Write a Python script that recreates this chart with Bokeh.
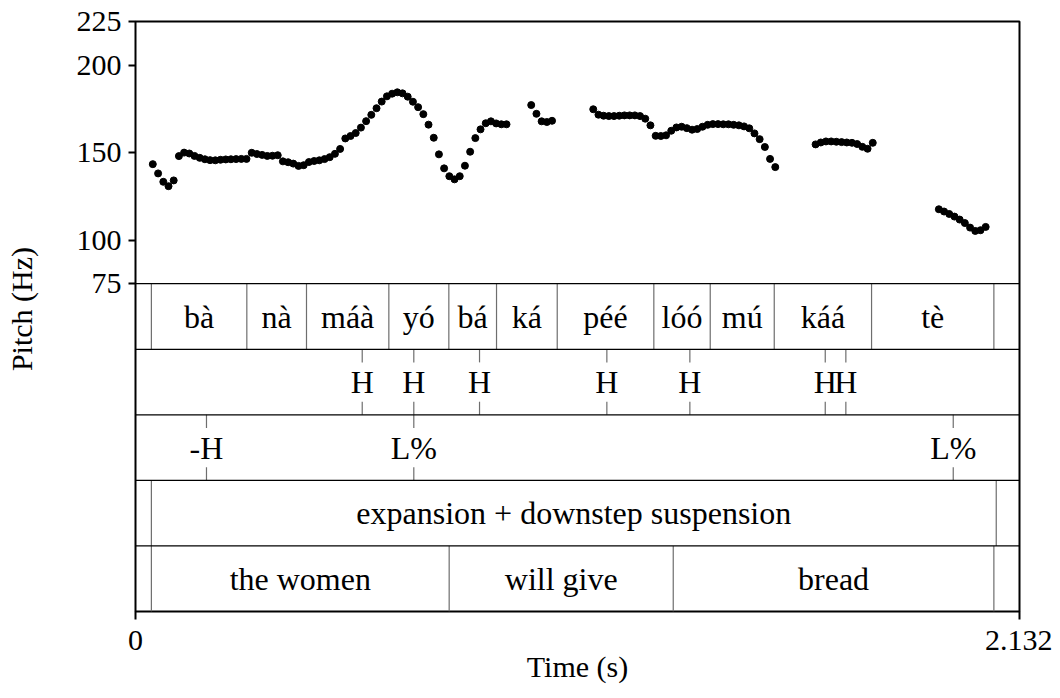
import math
from bokeh.plotting import figure
from bokeh.models import Range1d, FixedTicker, Span
from bokeh.core.properties import value
from bokeh.embed import file_html
from bokeh.resources import INLINE

# ---------------- data ----------------
# pitch track (time in s, F0 in Hz), one run per voiced stretch
run1_t = [0.0417, 0.0545, 0.0671, 0.0796, 0.0921, 0.1047, 0.1172, 0.1298, 0.1423, 0.1549,
          0.1674, 0.1799, 0.1925, 0.2050, 0.2176, 0.2301, 0.2426, 0.2552, 0.2677, 0.2803,
          0.2928, 0.3054, 0.3179, 0.3304, 0.3430, 0.3555, 0.3681, 0.3806, 0.3932, 0.4057,
          0.4182, 0.4308, 0.4433, 0.4559, 0.4684, 0.4810, 0.4935, 0.5060, 0.5186, 0.5311,
          0.5437, 0.5562, 0.5687, 0.5813, 0.5938, 0.6064, 0.6189, 0.6315, 0.6440, 0.6565,
          0.6691, 0.6816, 0.6942, 0.7067, 0.7193, 0.7318, 0.7443, 0.7569, 0.7694, 0.7820,
          0.7945, 0.8071, 0.8196, 0.8321, 0.8447, 0.8572, 0.8698, 0.8823, 0.8948]
run1_hz = [143.4, 138.1, 133.3, 130.8, 134.1, 148.0, 150.0, 149.5, 148.1, 147.0,
           146.2, 145.7, 145.6, 145.9, 146.1, 146.2, 146.3, 146.4, 146.4, 149.9,
           149.2, 148.7, 148.1, 148.2, 148.5, 145.0, 144.5, 143.7, 142.4, 142.8,
           144.6, 145.2, 145.6, 146.3, 147.4, 149.3, 152.1, 158.1, 159.5, 161.2,
           164.3, 168.0, 171.6, 175.4, 179.2, 182.2, 183.7, 184.5, 183.9, 182.0,
           179.1, 176.0, 172.0, 166.0, 158.5, 149.0, 141.0, 136.5, 134.7, 136.5,
           142.5, 150.5, 158.3, 163.3, 166.8, 167.9, 166.7, 166.2, 166.2]
run2_t = [0.9544, 0.9670, 0.9795, 0.9921, 1.0046]
run2_hz = [177.2, 172.2, 167.9, 167.5, 168.2]
run3_t = [1.1040, 1.1165, 1.1290, 1.1416, 1.1541, 1.1667, 1.1792, 1.1918, 1.2043, 1.2168,
          1.2294, 1.2419, 1.2545, 1.2670, 1.2796, 1.2921, 1.3046, 1.3172, 1.3297, 1.3423,
          1.3548, 1.3674, 1.3799, 1.3924, 1.4050, 1.4175, 1.4301, 1.4426, 1.4552, 1.4677,
          1.4803, 1.4928, 1.5053, 1.5179, 1.5304, 1.5430]
run3_hz = [174.8, 171.7, 171.1, 170.9, 170.9, 171.1, 171.3, 171.3, 171.3, 170.9,
           169.4, 165.6, 159.6, 159.5, 159.9, 162.5, 164.4, 164.8, 164.0, 163.1,
           163.5, 164.8, 165.9, 166.3, 166.3, 166.2, 166.2, 165.9, 165.6, 165.0,
           163.9, 161.0, 157.7, 153.2, 146.4, 141.7]
run4_t = [1.6402, 1.6527, 1.6652, 1.6778, 1.6903, 1.7029, 1.7154, 1.7280, 1.7405, 1.7530,
          1.7656, 1.7781]
run4_hz = [154.7, 155.8, 156.4, 156.4, 156.2, 156.0, 155.8, 155.6, 154.9, 153.3,
           152.2, 155.6]
run5_t = [1.9375, 1.9501, 1.9626, 1.9752, 1.9877, 2.0002, 2.0128, 2.0253, 2.0379, 2.0504]
run5_hz = [117.6, 116.3, 114.9, 113.4, 111.7, 109.7, 107.1, 105.2, 105.6, 107.5]

# tier 1: syllables (interval tier)
syll_bounds = [0.0383, 0.2685, 0.4124, 0.6110, 0.7557, 0.8707, 1.0171, 1.2501,
               1.3861, 1.5405, 1.7752, 2.0702]
syll_labels = ["bà", "nà", "máà", "yó", "bá", "ká", "péé", "lóó", "mú", "káá", "tè"]
# tier 2: tones (point tier)
tone_times = [0.5468, 0.6712, 0.8297, 1.1368, 1.3370, 1.6635, 1.7132]
tone_labels = ["H", "H", "H", "H", "H", "H", "H"]
# tier 3: boundary tones (point tier)
bt_times = [0.1712, 0.6712, 1.9722]
bt_labels = ["-H", "L%", "L%"]
# tier 4: information (interval tier)
info_bounds = [0.0383, 2.0759]
info_labels = ["expansion + downstep suspension"]
# tier 5: gloss (interval tier)
gloss_bounds = [0.0383, 0.7565, 1.2969, 2.0702]
gloss_labels = ["the women", "will give", "bread"]

t_end = 2.132
y_ticks = [75, 100, 150, 200, 225]
x_ticks = [0, 2.132]
x_tick_labels = ["0", "2.132"]
x_title = "Time (s)"
y_title = "Pitch (Hz)"

# ---------------- layout ----------------
FONT = "Liberation Serif"
FS = "30px"       # axis texts
TFS = "32px"      # tier texts
F0_MIN, F0_MAX = 75, 225
TIER_H = 37.5          # tier height in axis units
N_TIERS = 5
Y_MIN = F0_MIN - N_TIERS * TIER_H

p = figure(width=1052, height=697, output_backend="svg", toolbar_location=None,
           x_range=Range1d(0, t_end), y_range=Range1d(Y_MIN, F0_MAX),
           min_border_left=135, min_border_right=33, min_border_top=21, min_border_bottom=86)
p.grid.visible = False
p.outline_line_color = "black"
p.outline_line_width = 2
p.background_fill_color = "white"
p.border_fill_color = "white"

for ax in (p.xaxis[0], p.yaxis[0]):
    ax.axis_line_color = None
    ax.major_tick_line_color = "black"
    ax.major_tick_line_width = 2
    ax.major_tick_in = 0
    ax.minor_tick_line_color = None
    ax.major_label_text_font = FONT
    ax.major_label_text_font_size = FS
    ax.major_label_text_color = "black"
    ax.axis_label_text_font = FONT
    ax.axis_label_text_font_size = FS
    ax.axis_label_text_font_style = "normal"
    ax.axis_label_text_color = "black"

p.yaxis.ticker = FixedTicker(ticks=y_ticks, minor_ticks=[])
p.yaxis.major_tick_out = 7
p.yaxis.major_label_standoff = 7
p.yaxis.axis_label = "\u00a0\u00a0" + y_title
p.yaxis.axis_label_standoff = 36
p.xaxis.ticker = FixedTicker(ticks=x_ticks, minor_ticks=[])
p.xaxis.major_tick_out = 8
p.xaxis.major_label_standoff = 11
p.xaxis.major_label_overrides = {x: s for x, s in zip(x_ticks, x_tick_labels)}
p.xaxis.axis_label = x_title
p.xaxis.axis_label_standoff = -3

# tier separators
for k in range(N_TIERS):
    p.add_layout(Span(location=F0_MIN - k * TIER_H, dimension="width",
                      line_color="black", line_width=1.3))

def tier_top(k):
    return F0_MIN - k * TIER_H

def interval_tier(k, bounds, labels):
    top = tier_top(k)
    bot = top - TIER_H
    p.segment(x0=bounds, y0=[bot] * len(bounds), x1=bounds, y1=[top] * len(bounds),
              line_color="#6e6e6e", line_width=1.2)
    mids = [(a + b) / 2 for a, b in zip(bounds[:-1], bounds[1:])]
    p.text(x=mids, y=[top - TIER_H / 2] * len(mids), text=labels,
           text_font=value(FONT), text_font_size=value(TFS), text_color="black",
           text_align="center", text_baseline="middle")

def point_tier(k, times, labels):
    top = tier_top(k)
    bot = top - TIER_H
    tick = 0.2 * TIER_H
    n = len(times)
    p.segment(x0=times, y0=[top] * n, x1=times, y1=[top - tick] * n,
              line_color="#6e6e6e", line_width=1.2)
    p.segment(x0=times, y0=[bot] * n, x1=times, y1=[bot + tick] * n,
              line_color="#6e6e6e", line_width=1.2)
    p.text(x=times, y=[top - TIER_H / 2] * n, text=labels,
           text_font=value(FONT), text_font_size=value(TFS), text_color="black",
           text_align="center", text_baseline="middle")

interval_tier(0, syll_bounds, syll_labels)
point_tier(1, tone_times, tone_labels)
point_tier(2, bt_times, bt_labels)
interval_tier(3, info_bounds, info_labels)
interval_tier(4, gloss_bounds, gloss_labels)

# pitch dots
for tt, hz in ((run1_t, run1_hz), (run2_t, run2_hz), (run3_t, run3_hz),
               (run4_t, run4_hz), (run5_t, run5_hz)):
    p.scatter(x=tt, y=hz, size=7, color="black", line_color="black")

open("out.html", "w").write(file_html(p, INLINE))
